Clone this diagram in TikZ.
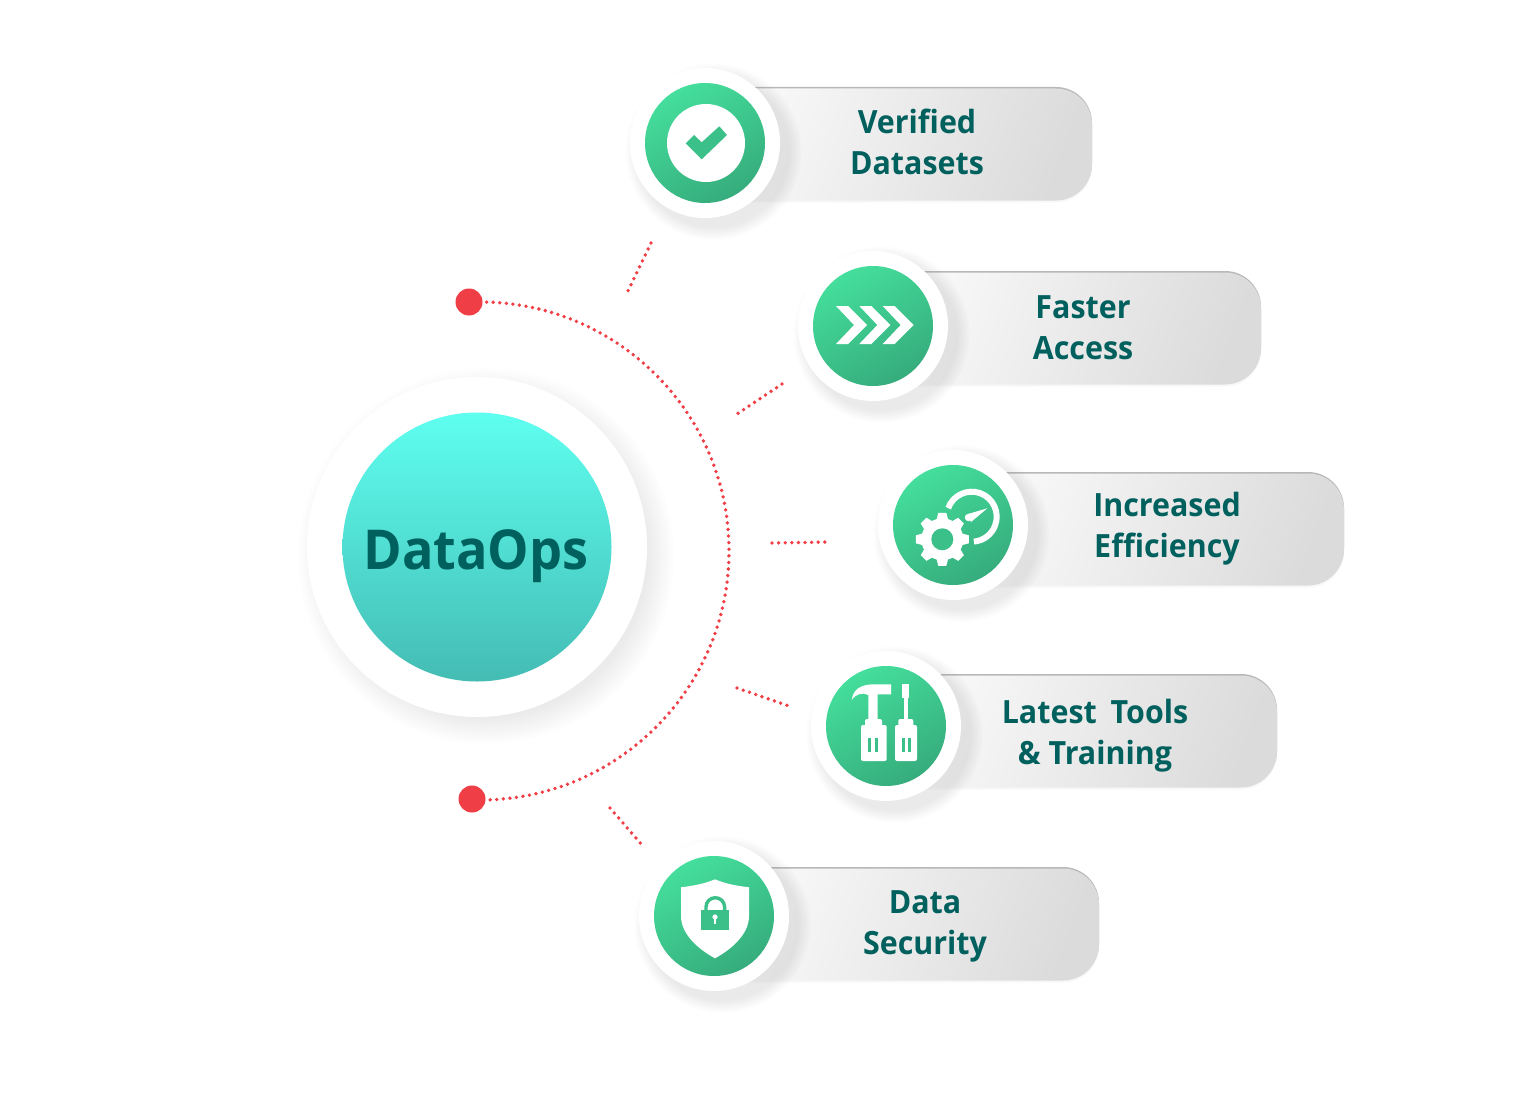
\documentclass[tikz,border=0pt]{standalone}
\usepackage{fontspec}
\setmainfont{Open Sans}[FakeStretch=0.95]
\usetikzlibrary{shadows}

\definecolor{tealtext}{RGB}{0,96,94}
\definecolor{dotred}{RGB}{240,62,70}
\definecolor{greenlight}{RGB}{68,222,156}
\definecolor{greendark}{RGB}{54,172,124}
\definecolor{greenmid}{RGB}{60,192,138}
\definecolor{cyanlight}{RGB}{94,255,240}
\definecolor{cyandark}{RGB}{68,188,180}

\tikzset{
  whitering/.style={circle,fill=white,inner sep=0pt,minimum size=150*.5pt,
    circular drop shadow={shadow xshift=3.5pt,shadow yshift=-3.5pt,shadow scale=1.18,opacity=.17}},
  bigring/.style={circle,fill=white,inner sep=0pt,minimum size=340*.5pt,
    circular drop shadow={shadow xshift=4pt,shadow yshift=-4pt,shadow scale=1.11,opacity=.16}},
  greendisc/.style={circle,inner sep=0pt,minimum size=120*.5pt,top color=greenlight,bottom color=greendark,shading angle=30},
  cyandisc/.style={circle,inner sep=0pt,minimum size=269*.5pt,top color=cyanlight,bottom color=cyandark},
  pillback/.style={rectangle,rounded corners=18pt,fill=black!28,minimum height=56pt,inner sep=0pt},
  pill/.style={rectangle,rounded corners=18pt,left color=black!2,right color=black!14,shading angle=70,minimum height=56pt,inner sep=0pt,
    drop shadow={shadow xshift=0pt,shadow yshift=-1pt,opacity=.06}},
  pilltext/.style={align=center,text=tealtext,font=\bfseries\fontsize{16}{20.5}\selectfont,inner sep=0pt},
  hubtext/.style={text=tealtext,font=\bfseries\fontsize{27.5}{32}\selectfont,inner sep=0pt},
  reddot/.style={circle,fill=dotred,inner sep=0pt,minimum size=13.5pt},
  reddots/.style={draw=dotred,line width=1.9pt,line cap=round,dash pattern=on 0pt off 3.3pt}
}

\begin{document}
\begin{tikzpicture}[x=.5pt,y=-.5pt]
  \useasboundingbox (0,0) rectangle (1536,1097);

  % hub
  \node (hubring) at (477,547) [bigring] {};
  \node (hub) at (477,547) [cyandisc] {};
  \node (hublabel) at (476,556) [hubtext] {DataOps};

  % arc with its two end dots
  \node (dottop) at (469,302) [reddot] {};
  \node (dotbot) at (472,799) [reddot] {};
  \coordinate (arcstart) at (480,302);
  \draw[reddots] (arcstart) arc[start angle=-90,end angle=90,radius=249];

  % short spokes
  \coordinate (s1a) at (651,243);
  \coordinate (s1b) at (627,293);
  \coordinate (s2a) at (782,384);
  \coordinate (s2b) at (737,414);
  \coordinate (s3a) at (772,543);
  \coordinate (s3b) at (828,542);
  \coordinate (s4a) at (737,688);
  \coordinate (s4b) at (789,706);
  \coordinate (s5a) at (610,808);
  \coordinate (s5b) at (642,845);
  \foreach \from/\to in {s1a/s1b, s2a/s2b, s3a/s3b, s4a/s4b, s5a/s5b}
    \draw[reddots] (\from) -- (\to);

  % pills, left ends tucked under the discs
  \foreach \n/\cx/\cy/\pw in {1/898.5/144.5/193.5, 2/1067/328.5/194, 3/1148.5/529.5/195.5, 4/1081.5/731.5/195.5, 5/906.5/924.5/192.5} {
    \node (back\n) at (\cx,\cy-1.5) [pillback,minimum width=\pw pt] {};
    \node (pill\n) at (\cx,\cy) [pill,minimum width=\pw pt] {};
  }
  \node (label1) at (917,142) [pilltext] {Verified\\Datasets};
  \node (label2) at (1083,328) [pilltext] {Faster\\Access};
  \node (label3) at (1167,529) [pilltext] {Increased\\Efficiency};
  \node (label4) at (1095,736) [pilltext] {Latest\hspace{3pt} Tools\\\& Training};
  \node (label5) at (925,926) [pilltext] {Data\\Security};

  % icon discs
  \foreach \n/\cx/\cy in {1/705/143, 2/873/326, 3/953/525, 4/886/726, 5/714/916} {
    \node (ring\n) at (\cx,\cy) [whitering] {};
    \node (disc\n) at (\cx,\cy) [greendisc] {};
  }

  % check mark
  \begin{scope}[shift={(disc1)}]
    \fill[white] (1,0) circle (39);
    \fill[greenmid] (-19.3,.3) -- (-11,-8) -- (-3.3,-.7) -- (14.3,-16.7) -- (22,-8) -- (-3.3,16.3) -- cycle;
  \end{scope}

  % chevrons
  \begin{scope}[shift={(disc2)}]
    \foreach \dx in {0,23.3,46.7}
      \fill[white,xshift=\dx*.5pt] (-37,-20) -- (-25,-20) -- (-6,-1) -- (-25,18) -- (-37,18) -- (-19,-1) -- cycle;
  \end{scope}

  % gear and gauge
  \begin{scope}[shift={(disc3)}]
    \fill[white] (-10.7,14.3) circle (21);
    \foreach \a in {0,45,...,315}
      \fill[white,shift={(-10.7,14.3)},rotate=\a] (-6,-19) -- (-4,-26.5) -- (4,-26.5) -- (6,-19) -- cycle;
    \fill[greenmid] (-10.7,14.3) circle (11);
    \draw[white,line width=3pt] (18.7,-8.3) ++(-160:25) arc[start angle=-160,end angle=85,radius=25];
    \fill[white] (34.3,-16.7) -- (15,-11) -- (18,-3) -- cycle;
    \fill[white] (15.5,-7.5) circle (3.7);
  \end{scope}

  % hammer and screwdriver
  \begin{scope}[shift={(disc4)}]
    \fill[white] (-34.3,-26) .. controls (-33,-36) and (-26,-41.7) .. (-12,-41.7) -- (5,-41.7) -- (5,-31.7) -- (-8.3,-31.7) -- (-8.3,-6) -- (-17.7,-6) -- (-17.7,-31) .. controls (-24,-34) and (-30,-32) .. (-34.3,-26) -- cycle;
    \fill[white,rounded corners=1pt] (-21,-7) rectangle (-4,3);
    \fill[white,rounded corners=1pt] (-25,-1) rectangle (.7,35);
    \fill[white] (16.3,-41.7) rectangle (23.3,-28);
    \fill[white] (18.3,-28) rectangle (21.7,-6);
    \fill[white,rounded corners=1pt] (12.3,-7) rectangle (27.3,3);
    \fill[white,rounded corners=1pt] (9,-1) rectangle (31,35);
    \foreach \sx in {-18.3,-11,15.7,21.7}
      \fill[greenmid] (\sx,12.3) rectangle ++(2.8,14);
  \end{scope}

  % shield and padlock
  \begin{scope}[shift={(disc5)}]
    \fill[white] (1,-36.7) .. controls (-10,-32) and (-22,-30) .. (-33,-28.7) -- (-33,0) .. controls (-33,18) and (-16,33) .. (1,42.3)
      .. controls (18,33) and (35,18) .. (35,0) -- (35,-28.7) .. controls (24,-30) and (12,-32) .. (1,-36.7) -- cycle;
    \fill[greenmid] (-13,-6) rectangle (15.3,14);
    \draw[greenmid,line width=1.7pt] (-8,-6) -- (-8,-9) arc[start angle=180,end angle=360,radius=9.3] -- (10.6,-6);
    \fill[white] (1,1) circle (2.6);
    \fill[white] (0,1) rectangle (2,8);
  \end{scope}
\end{tikzpicture}
\end{document}
